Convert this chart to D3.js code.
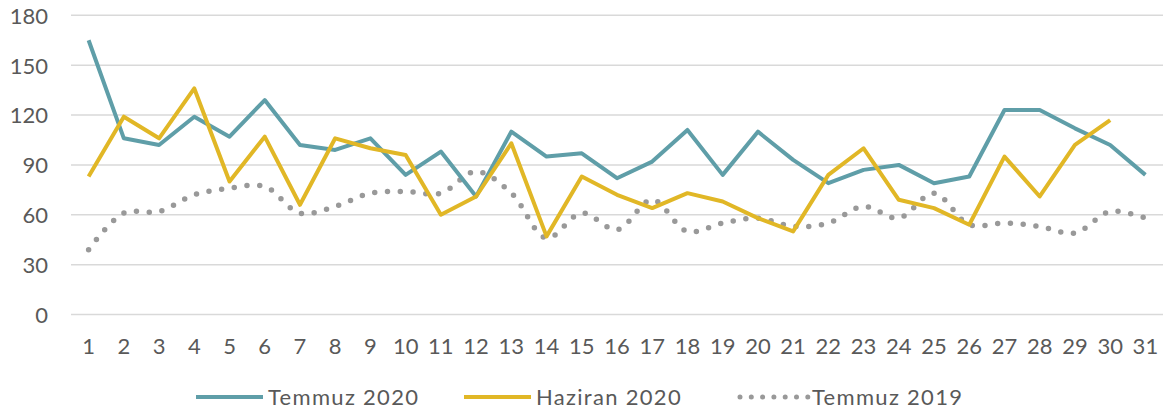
<!DOCTYPE html>
<html>
<head>
<meta charset="utf-8">
<script src="https://cdn.jsdelivr.net/npm/d3@7"></script>
<style>
  body { margin: 0; background: #fff; }
  text { font-family: Lato, "Liberation Sans", sans-serif; fill: #595959; }
</style>
</head>
<body>
<script>

// days of the month
var days = d3.range(1, 32).map(String);

var yTicks = [0, 30, 60, 90, 120, 150, 180];

var temmuz2020 = [165, 106, 102, 119, 107, 129, 102, 99, 106, 84, 98, 71, 110, 95, 97, 82,
  92, 111, 84, 110, 93, 79, 87, 90, 79, 83, 123, 123, 112, 102, 84];
var haziran2020 = [83, 119, 106, 136, 80, 107, 66, 106, 100, 96, 60, 71, 103, 47, 83, 72,
  64, 73, 68, 58, 50, 84, 100, 69, 64, 54, 95, 71, 102, 117];
var temmuz2019 = [39, 61, 62, 72, 76, 77, 61, 65, 73, 74, 73, 86, 73, 46, 61, 51,
  69, 50, 55, 58, 53, 55, 65, 58, 73, 54, 55, 53, 49, 62, 58];

var seriesNames = ["Temmuz 2020", "Haziran 2020", "Temmuz 2019"];
var colors = ["#5f9ea8", "#e1b726", "#999999"];

var width = 1175, height = 415;

var svg = d3.select("body").append("svg")
    .attr("width", width)
    .attr("height", height);

var x = d3.scaleBand()
    .domain(days)
    .range([71, 1163])
    .padding(0);

var y = d3.scaleLinear()
    .domain([0, 180])
    .range([314.5, 15.3]);

// gridlines
svg.append("g")
  .selectAll("line")
  .data(yTicks)
  .enter().append("line")
    .attr("x1", 71)
    .attr("x2", 1163)
    .attr("y1", function(d) { return y(d); })
    .attr("y2", function(d) { return y(d); })
    .attr("stroke", "#d9d9d9")
    .attr("stroke-width", 1.5);

// y axis labels
var yAxis = d3.axisLeft(y)
    .tickValues(yTicks)
    .tickSize(0)
    .tickPadding(0);

svg.append("g")
    .attr("transform", "translate(48,0)")
    .call(yAxis)
    .call(function(g) { g.select(".domain").remove(); })
    .selectAll("text")
    .attr("font-family", null)
    .style("font-size", "22px")
    .attr("dy", "0.36em");

// x axis labels
var xAxis = d3.axisBottom(x)
    .tickSize(0)
    .tickPadding(0);

svg.append("g")
    .attr("transform", "translate(0,338)")
    .call(xAxis)
    .call(function(g) { g.select(".domain").remove(); })
    .selectAll("text")
    .attr("font-family", null)
    .style("font-size", "22px")
    .attr("dy", "0.72em");

function cx(d, i) { return x(days[i]) + x.bandwidth() / 2; }

var line = d3.line()
    .x(cx)
    .y(function(d) { return y(d); });

var smooth = d3.line()
    .x(cx)
    .y(function(d) { return y(d); })
    .curve(d3.curveCatmullRom.alpha(0.5));

// Temmuz 2019 - dotted, smoothed
svg.append("path")
    .datum(temmuz2019)
    .attr("fill", "none")
    .attr("stroke", colors[2])
    .attr("stroke-width", 5.5)
    .attr("stroke-linecap", "round")
    .attr("stroke-dasharray", "0 12.8")
    .attr("d", smooth);

svg.append("path")
    .datum(temmuz2020)
    .attr("fill", "none")
    .attr("stroke", colors[0])
    .attr("stroke-width", 4)
    .attr("stroke-linejoin", "round")
    .attr("d", line);

svg.append("path")
    .datum(haziran2020)
    .attr("fill", "none")
    .attr("stroke", colors[1])
    .attr("stroke-width", 4)
    .attr("stroke-linejoin", "round")
    .attr("d", line);

// legend
var legendX = [196, 464, 738];
var legend = svg.append("g")
  .selectAll("g")
  .data(seriesNames)
  .enter().append("g")
    .attr("transform", function(d, i) { return "translate(" + legendX[i] + ",397)"; });

legend.append("line")
    .attr("x1", function(d, i) { return i == 2 ? 2 : 0; })
    .attr("x2", function(d, i) { return i == 2 ? 70 : 67; })
    .attr("stroke", function(d, i) { return colors[i]; })
    .attr("stroke-width", function(d, i) { return i == 2 ? 5 : 4; })
    .attr("stroke-linecap", function(d, i) { return i == 2 ? "round" : "butt"; })
    .attr("stroke-dasharray", function(d, i) { return i == 2 ? "0 11.3" : null; });

legend.append("text")
    .attr("x", function(d, i) { return i == 2 ? 74 : 72; })
    .attr("dy", "0.36em")
    .style("font-size", "22px")
    .style("letter-spacing", "1.3px")
    .text(function(d) { return d; });

</script>
</body>
</html>
